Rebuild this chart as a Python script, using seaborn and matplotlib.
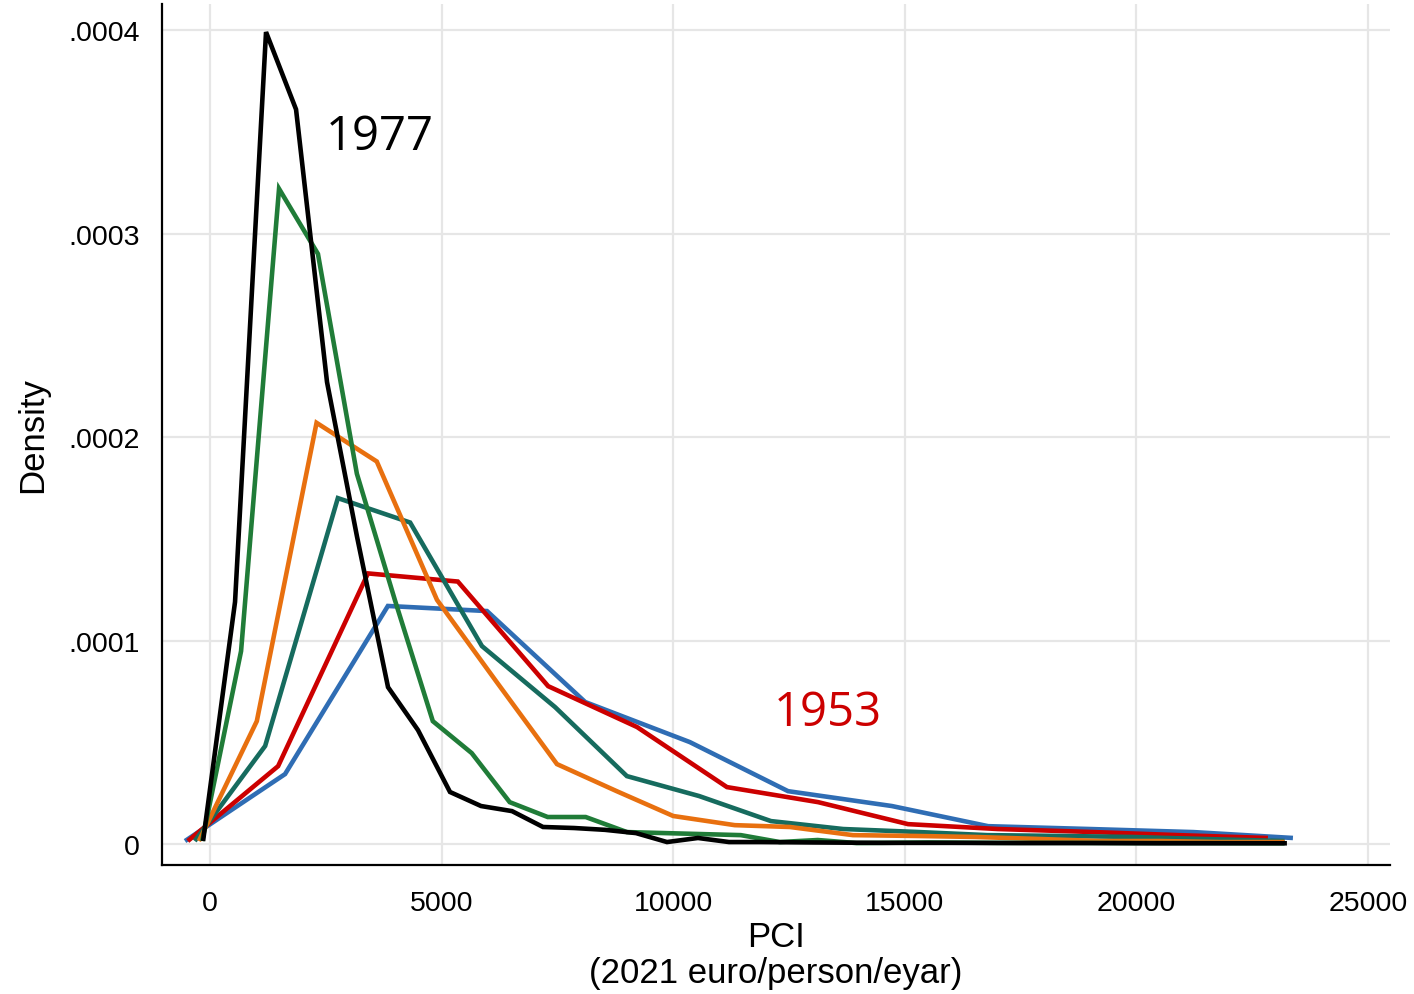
import numpy as np
import pandas as pd
import matplotlib
matplotlib.use("Agg")
import matplotlib.pyplot as plt
import seaborn as sns

# Per-capita income density curves (frequency polygons), one per year
black_x = [-150, 540, 1209, 1857, 2526, 3174, 3843, 4490, 5181, 5851, 6520, 7189,
           7858, 8528, 9197, 9866, 10535, 11205, 11874, 13000, 14500, 16000,
           17500, 19000, 20500, 22000, 23250]
black_y = [0.0000015, 0.000119, 0.000399, 0.000361, 0.000227, 0.000151, 0.0000771,
           0.000056, 0.0000256, 0.0000187, 0.0000162, 0.0000084, 0.0000079, 0.000007,
           0.0000054, 0.000001, 0.000003, 0.000001, 0.000001, 0.0000008, 0.0000006,
           0.0000006, 0.0000005, 0.0000005, 0.0000004, 0.0000004, 0.0000004]

green_x = [-170, 670, 1490, 2330, 3170, 3990, 4810, 5650, 6470, 7290, 8110, 9000,
           9820, 10640, 11460, 12300, 13120, 13960, 15500, 17000, 18500, 20000,
           21500, 23200]
green_y = [0.0000015, 0.0000948, 0.000322, 0.00029, 0.000182, 0.00012, 0.0000604,
           0.0000447, 0.0000206, 0.0000133, 0.0000133, 0.0000059, 0.0000054, 0.0000049,
           0.0000044, 0.000001, 0.000002, 0.0000005, 0.0000008, 0.0000006, 0.0000006,
           0.0000005, 0.0000005, 0.0000004]

orange_x = [-240, 1010, 2300, 3600, 4900, 6190, 7490, 8780, 10000, 11330, 12520,
            13880, 15220, 16520, 17920, 19210, 20510, 21800, 23200]
orange_y = [0.0000015, 0.0000604, 0.000207, 0.000188, 0.00012, 0.0000796, 0.0000393,
            0.000026, 0.0000138, 0.0000093, 0.0000084, 0.0000044, 0.000004, 0.0000035,
            0.0000025, 0.0000015, 0.0000015, 0.000001, 0.000001]

teal_x = [-330, 1190, 2760, 4320, 5870, 7450, 9000, 10560, 12110, 13670, 15220,
          16780, 18350, 19900, 21480, 23200]
teal_y = [0.0000015, 0.0000482, 0.00017, 0.000158, 0.0000973, 0.0000673, 0.0000334,
          0.0000236, 0.0000113, 0.0000074, 0.000006, 0.0000044, 0.000004, 0.0000035,
          0.0000025, 0.0000015]

red_x = [-480, 1470, 3410, 5350, 7300, 9220, 11160, 13130, 15070, 17010, 18960,
         20900, 22840]
red_y = [0.0000015, 0.0000383, 0.000133, 0.000129, 0.0000776, 0.0000575, 0.000028,
         0.0000206, 0.0000098, 0.0000074, 0.000006, 0.0000044, 0.000003]

blue_x = [-540, 1620, 3840, 5980, 8100, 10360, 12480, 14720, 16800, 19000, 21230,
          23380]
blue_y = [0.0000015, 0.0000344, 0.000117, 0.0001145, 0.0000698, 0.0000501, 0.000026,
          0.0000187, 0.0000088, 0.0000074, 0.0000059, 0.000003]

series = ["blue", "red", "teal", "orange", "green", "black"]
palette = {
    "black": "#000000",
    "green": "#207c38",
    "orange": "#e8700f",
    "teal": "#166b5e",
    "red": "#cc0000",
    "blue": "#2f6db4",
}
xs = {"black": black_x, "green": green_x, "orange": orange_x,
      "teal": teal_x, "red": red_x, "blue": blue_x}
ys = {"black": black_y, "green": green_y, "orange": orange_y,
      "teal": teal_y, "red": red_y, "blue": blue_y}

frames = []
for name in series:
    frames.append(pd.DataFrame({"pci": xs[name], "density": ys[name],
                                "series": name}))
df = pd.concat(frames, ignore_index=True)

x_ticks = [0, 5000, 10000, 15000, 20000, 25000]
x_tick_labels = ["0", "5000", "10000", "15000", "20000", "25000"]
y_ticks = [0, 0.0001, 0.0002, 0.0003, 0.0004]
y_tick_labels = ["0", ".0001", ".0002", ".0003", ".0004"]

sns.set_theme(style="white")
plt.rcParams["font.family"] = ["Liberation Sans", "DejaVu Sans"]
plt.rcParams["text.color"] = "black"
plt.rcParams["axes.labelcolor"] = "black"

fig = plt.figure(figsize=(14.14, 9.95), dpi=100)
ax = fig.add_axes([0.1146, 0.1296, 0.8684, 0.8654])

for name in series:
    sub = df[df["series"] == name]
    sns.lineplot(data=sub, x="pci", y="density", color=palette[name],
                 sort=False, estimator=None, ax=ax, legend=False)
for line in ax.lines:
    line.set_linewidth(3.3)
    line.set_solid_joinstyle("miter")
    line.set_solid_capstyle("butt")

ax.set_xlim(-1036, 25475)
ax.set_ylim(-0.0000103, 0.0004128)

ax.set_xticks(x_ticks)
ax.set_xticklabels(x_tick_labels, fontsize=20.5)
ax.set_yticks(y_ticks)
ax.set_yticklabels(y_tick_labels, fontsize=20.5)

ax.grid(True, color="#e6e6e6", linewidth=1.6)
ax.set_axisbelow(True)
for side in ["top", "right"]:
    ax.spines[side].set_visible(False)
for side in ["left", "bottom"]:
    ax.spines[side].set_color("black")
    ax.spines[side].set_linewidth(1.6)
ax.tick_params(axis="both", direction="out", length=10, width=1.4,
               color="black", labelcolor="black")
ax.tick_params(axis="y", pad=6)
ax.tick_params(axis="x", pad=8)

ax.set_xlabel("PCI\n(2021 euro/person/eyar)", fontsize=25, labelpad=3,
              linespacing=1.12, color="black")
ax.set_ylabel("Density", fontsize=25, labelpad=14, color="black")

ax.text(3670, 0.000348, "1977", fontsize=34, color="black",
        family=["Open Sans", "DejaVu Sans"], ha="center", va="center")
ax.text(13342, 0.0000649, "1953", fontsize=34, color="#cc0000",
        family=["Open Sans", "DejaVu Sans"], ha="center", va="center")

fig.savefig("out.png", dpi=100, facecolor="white")
